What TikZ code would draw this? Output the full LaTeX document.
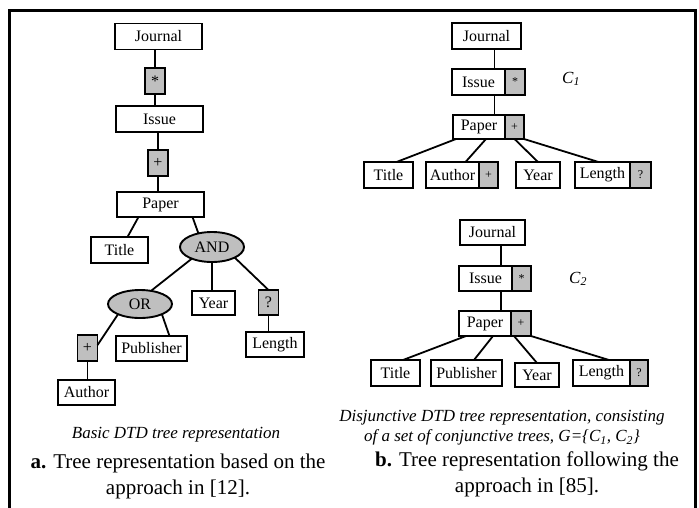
\documentclass[tikz,border=0pt]{standalone}
\usepackage{fontspec}
\setmainfont{Liberation Serif}
\usepackage{tikz}
\usetikzlibrary{shapes.geometric}

\begin{document}
\begin{tikzpicture}[x=1pt, y=-1pt,
  elem/.style={draw, line width=1.9pt, fill=white, inner sep=0pt, outer sep=0pt, minimum height=26pt, font=\fontsize{16}{18}\selectfont},
  card/.style={draw, line width=1.9pt, fill=black!25, inner sep=0pt, outer sep=0pt, minimum width=20pt, minimum height=26pt, font=\fontsize{16}{18}\selectfont},
  smallcard/.style={card, font=\fontsize{12}{14}\selectfont},
  gate/.style={ellipse, draw, line width=1.9pt, fill=black!25, inner sep=0pt, outer sep=0pt, minimum width=64pt, minimum height=30pt, font=\fontsize{16}{18}\selectfont},
  link/.style={line width=1.8pt}]

\useasboundingbox (0,0) rectangle (699,507);

% --- outer frame ---
\draw[line width=2.6pt] (9.7,10.5) rectangle (695.5,540);

% --- a. basic DTD tree ---
\node[elem, minimum width=87pt] (journalA) at (158.5,36.5) {Journal};
\node[card] (starA) at (155,81) {*};
\node[elem, minimum width=87pt] (issueA) at (159.5,119) {Issue};
\node[card] (plusA) at (158,163) {+};
\node[elem, minimum width=87pt, minimum height=25pt] (paperA) at (160.5,204.5) {Paper};
\node[elem, minimum width=57pt] (titleA) at (119.5,250) {Title};
\node[gate] (andA) at (212,247) {AND};
\node[gate, minimum height=28pt] (orA) at (140,304) {OR};
\node[elem, minimum width=43pt, minimum height=24pt] (yearA) at (213.5,303) {Year};
\node[card, minimum height=25pt] (optA) at (268.5,302.5) {?};
\node[card] (manyA) at (87.5,348) {+};
\node[elem, minimum width=71pt, minimum height=25pt] (publisherA) at (151.5,348.5) {Publisher};
\node[elem, minimum width=58pt, minimum height=25pt] (lengthA) at (275,344.5) {Length};
\node[elem, minimum width=57pt, minimum height=25pt] (authorA) at (86.5,392.5) {Author};

% edges of tree a
\draw[link] (starA.north |- journalA.south) -- (starA.north);
\draw[link] (starA.south) -- (starA.south |- issueA.north);
\draw[link] (plusA.north |- issueA.south) -- (plusA.north);
\draw[link] (plusA.south) -- (plusA.south |- paperA.north);
\draw[link] ([xshift=-22pt]paperA.south) -- ([xshift=8pt]titleA.north);
\draw[link] ([xshift=32pt]paperA.south) -- (andA.135);
\draw[link] (andA.210) -- (orA.50);
\draw[link] (andA.south) -- (andA.south |- yearA.north);
\draw[link] (andA.-25) -- (optA.north);
\draw[link] (optA.south) -- (optA.south |- lengthA.north);
\draw[link] (orA.205) -- ([yshift=3pt]manyA.east);
\draw[link] (orA.-25) -- ([xshift=18pt]publisherA.north);
\draw[link] (manyA.south) -- (manyA.south |- authorA.north);

\node[font=\fontsize{17}{20}\selectfont\itshape] (captionA) at (176,435) {Basic DTD tree representation};
\node[font=\fontsize{21}{26}\selectfont, align=center] (labelA) at (178,476) {\textbf{a.} Tree representation based on the\\approach in [12].};

% --- b. conjunctive tree C1 ---
\node[elem, minimum width=69pt] (journalB) at (486.5,36) {Journal};
\node[elem, minimum width=53pt] (issueB) at (478.5,82) {Issue};
\node[smallcard, anchor=west] (starB) at (issueB.east) {*};
\node[elem, minimum width=52pt, minimum height=24pt] (paperB) at (479,127) {Paper};
\node[smallcard, minimum width=19pt, minimum height=24pt, anchor=west] (plusB) at (paperB.east) {+};
\node[elem, minimum width=49pt] (titleB) at (388.5,175) {Title};
\node[elem, minimum width=53pt] (authorB) at (452.5,175) {Author};
\node[smallcard, minimum width=19pt, anchor=west] (plusAuthB) at (authorB.east) {+};
\node[elem, minimum width=44pt] (yearB) at (538,175) {Year};
\node[elem, minimum width=55pt] (lengthB) at (602.5,175) {Length};
\node[smallcard, minimum width=21pt, anchor=west] (optB) at (lengthB.east) {?};
\node[font=\fontsize{17}{20}\selectfont] (labelC1) at (571,79) {\textit{C}\textsubscript{\textit{1}}};

\draw[link] ([xshift=8pt]journalB.south) -- ([xshift=8pt]journalB.south |- issueB.north);
\draw[link] ([xshift=16pt]issueB.south) -- ([xshift=16pt]issueB.south |- paperB.north);
\draw[link] ([xshift=3pt]paperB.south west) -- ([xshift=8pt]titleB.north);
\draw[link] ([xshift=7pt]paperB.south) -- ([xshift=13pt]authorB.north);
\draw[link] (plusB.south) -- (yearB.north);
\draw[link] (plusB.south east) -- ([xshift=-4pt]lengthB.north);

% --- b. conjunctive tree C2 ---
\node[elem, minimum width=65pt, minimum height=25pt] (journalC) at (492.5,232.5) {Journal};
\node[elem, minimum width=53pt, minimum height=25pt] (issueC) at (485.5,278.5) {Issue};
\node[smallcard, minimum width=19pt, minimum height=25pt, anchor=west] (starC) at (issueC.east) {*};
\node[elem, minimum width=52pt, minimum height=25pt] (paperC) at (485,323.5) {Paper};
\node[smallcard, minimum height=25pt, anchor=west] (plusC) at (paperC.east) {+};
\node[elem, minimum width=49pt] (titleC) at (395.5,373) {Title};
\node[elem, minimum width=71pt] (publisherC) at (466.5,373) {Publisher};
\node[elem, minimum width=44pt, minimum height=24pt] (yearC) at (537,375) {Year};
\node[elem, minimum width=57pt] (lengthC) at (601.5,373) {Length};
\node[smallcard, minimum width=18pt, anchor=west] (optC) at (lengthC.east) {?};
\node[font=\fontsize{17}{20}\selectfont] (labelC2) at (578,279) {\textit{C}\textsubscript{\textit{2}}};

\draw[link] ([xshift=8.5pt]journalC.south) -- ([xshift=8.5pt]journalC.south |- issueC.north);
\draw[link] ([xshift=15.5pt]issueC.south) -- ([xshift=15.5pt]issueC.south |- paperC.north);
\draw[link] ([xshift=7pt]paperC.south west) -- ([xshift=7.5pt]titleC.north);
\draw[link] ([xshift=8pt]paperC.south) -- ([xshift=7.5pt]publisherC.north);
\draw[link] ([xshift=-7pt]plusC.south) -- (yearC.north);
\draw[link] (plusC.south east) -- ([xshift=7.5pt]lengthC.north);

\node[font=\fontsize{17}{20}\selectfont\itshape, align=center] (captionB) at (502,428) {Disjunctive DTD tree representation, consisting\\of a set of conjunctive trees, G=\{C\textsubscript{1}, C\textsubscript{2}\}};
\node[font=\fontsize{21}{26}\selectfont, align=center] (labelB) at (527,474) {\textbf{b.} Tree representation following the\\approach in [85].};

\end{tikzpicture}
\end{document}
